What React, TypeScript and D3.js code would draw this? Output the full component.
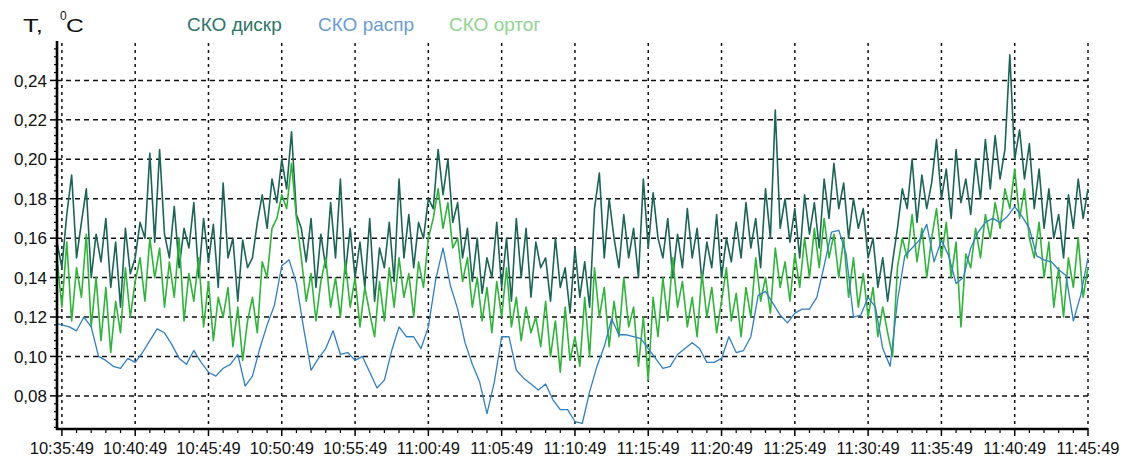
import React from "react";
import * as d3 from "d3";

// Series sampling
const START_SPIKY = "10:35:29"; // first sample of the "дискр" and "ортог" series
const STEP_SPIKY = 20; // seconds
const START_SMOOTH = "10:35:19"; // first sample of the "распр" series
const STEP_SMOOTH = 30; // seconds

const DOMAIN_START = "10:35:29";
const DOMAIN_END = "11:45:49";

const X_TICKS = [
  "10:35:49", "10:40:49", "10:45:49", "10:50:49", "10:55:49", "11:00:49", "11:05:49", "11:10:49",
  "11:15:49", "11:20:49", "11:25:49", "11:30:49", "11:35:49", "11:40:49", "11:45:49",
];
const Y_TICKS = [0.08, 0.1, 0.12, 0.14, 0.16, 0.18, 0.2, 0.22, 0.24];

const LEGEND = ["СКО дискр", "СКО распр", "СКО ортог"];

// СКО дискр
const skoDiskr = [
  0.158, 0.145, 0.172, 0.192, 0.150, 0.168, 0.185, 0.140, 0.162, 0.148,
  0.170, 0.135, 0.158, 0.125, 0.165, 0.142, 0.150, 0.168, 0.160, 0.203,
  0.158, 0.205, 0.162, 0.150, 0.176, 0.145, 0.165, 0.155, 0.178, 0.140,
  0.170, 0.148, 0.167, 0.135, 0.188, 0.150, 0.160, 0.128, 0.159, 0.145,
  0.150, 0.168, 0.182, 0.165, 0.190, 0.178, 0.200, 0.185, 0.214, 0.172,
  0.165, 0.148, 0.170, 0.135, 0.162, 0.145, 0.178, 0.150, 0.190, 0.142,
  0.165, 0.140, 0.158, 0.135, 0.170, 0.128, 0.155, 0.145, 0.168, 0.138,
  0.190, 0.150, 0.172, 0.145, 0.168, 0.160, 0.180, 0.175, 0.205, 0.182,
  0.200, 0.168, 0.178, 0.150, 0.165, 0.138, 0.160, 0.132, 0.150, 0.140,
  0.168, 0.135, 0.160, 0.128, 0.170, 0.140, 0.165, 0.130, 0.158, 0.145,
  0.150, 0.128, 0.160, 0.135, 0.145, 0.122, 0.155, 0.130, 0.148, 0.125,
  0.175, 0.193, 0.150, 0.180, 0.160, 0.145, 0.172, 0.150, 0.165, 0.140,
  0.190, 0.155, 0.183, 0.160, 0.150, 0.170, 0.140, 0.162, 0.145, 0.175,
  0.150, 0.165, 0.138, 0.158, 0.145, 0.172, 0.140, 0.160, 0.148, 0.168,
  0.150, 0.178, 0.155, 0.170, 0.145, 0.185, 0.160, 0.225, 0.165, 0.180,
  0.158, 0.175, 0.150, 0.182, 0.162, 0.178, 0.155, 0.190, 0.170, 0.198,
  0.175, 0.188, 0.160, 0.180, 0.165, 0.175, 0.150, 0.160, 0.135, 0.150,
  0.128, 0.148, 0.165, 0.185, 0.175, 0.200, 0.168, 0.192, 0.175, 0.188,
  0.210, 0.180, 0.195, 0.170, 0.205, 0.178, 0.190, 0.172, 0.200, 0.180,
  0.210, 0.185, 0.212, 0.190, 0.205, 0.253, 0.200, 0.215, 0.190, 0.208,
  0.175, 0.195, 0.165, 0.185, 0.160, 0.172, 0.150, 0.182, 0.165, 0.190,
  0.170, 0.185,
];

// СКО ортог
const skoOrtog = [
  0.150, 0.125, 0.158, 0.118, 0.145, 0.130, 0.162, 0.115, 0.140, 0.108,
  0.135, 0.102, 0.128, 0.112, 0.145, 0.120, 0.138, 0.150, 0.128, 0.160,
  0.140, 0.155, 0.125, 0.148, 0.130, 0.160, 0.118, 0.142, 0.128, 0.150,
  0.115, 0.138, 0.108, 0.130, 0.120, 0.135, 0.105, 0.125, 0.098, 0.118,
  0.130, 0.112, 0.148, 0.140, 0.165, 0.170, 0.182, 0.175, 0.198, 0.170,
  0.150, 0.128, 0.142, 0.118, 0.138, 0.150, 0.125, 0.140, 0.120, 0.148,
  0.125, 0.140, 0.115, 0.135, 0.122, 0.110, 0.138, 0.118, 0.145, 0.125,
  0.150, 0.130, 0.142, 0.120, 0.148, 0.135, 0.160, 0.170, 0.185, 0.165,
  0.178, 0.155, 0.160, 0.138, 0.150, 0.125, 0.140, 0.118, 0.135, 0.112,
  0.138, 0.120, 0.145, 0.115, 0.130, 0.108, 0.125, 0.112, 0.120, 0.105,
  0.128, 0.100, 0.118, 0.092, 0.125, 0.098, 0.110, 0.095, 0.130, 0.100,
  0.145, 0.120, 0.135, 0.105, 0.128, 0.110, 0.140, 0.115, 0.125, 0.095,
  0.120, 0.088, 0.130, 0.110, 0.140, 0.118, 0.150, 0.125, 0.138, 0.115,
  0.130, 0.110, 0.142, 0.120, 0.135, 0.112, 0.128, 0.145, 0.118, 0.132,
  0.110, 0.135, 0.120, 0.150, 0.128, 0.140, 0.122, 0.155, 0.135, 0.148,
  0.128, 0.152, 0.135, 0.160, 0.140, 0.165, 0.145, 0.170, 0.150, 0.162,
  0.140, 0.160, 0.130, 0.150, 0.125, 0.142, 0.120, 0.135, 0.110, 0.125,
  0.112, 0.100, 0.145, 0.160, 0.150, 0.172, 0.148, 0.165, 0.140, 0.160,
  0.175, 0.150, 0.168, 0.140, 0.158, 0.115, 0.152, 0.145, 0.165, 0.150,
  0.172, 0.160, 0.178, 0.165, 0.185, 0.175, 0.195, 0.170, 0.185, 0.160,
  0.150, 0.168, 0.140, 0.158, 0.125, 0.145, 0.120, 0.150, 0.135, 0.160,
  0.130, 0.145,
];

// СКО распр
const skoRaspr = [
  0.117, 0.116, 0.115, 0.113, 0.120, 0.115, 0.100, 0.098, 0.095, 0.094,
  0.099, 0.097, 0.102, 0.108, 0.114, 0.112, 0.106, 0.099, 0.096, 0.103,
  0.097, 0.092, 0.090, 0.094, 0.096, 0.101, 0.085, 0.090, 0.104, 0.116,
  0.126, 0.146, 0.149, 0.137, 0.114, 0.093, 0.099, 0.104, 0.113, 0.101,
  0.102, 0.098, 0.100, 0.092, 0.084, 0.088, 0.103, 0.115, 0.110, 0.110,
  0.104, 0.115, 0.139, 0.155, 0.136, 0.124, 0.107, 0.096, 0.087, 0.071,
  0.087, 0.110, 0.110, 0.093, 0.089, 0.086, 0.083, 0.086, 0.078, 0.073,
  0.073, 0.067, 0.066, 0.082, 0.095, 0.105, 0.119, 0.111, 0.111, 0.110,
  0.109, 0.104, 0.099, 0.094, 0.095, 0.101, 0.104, 0.107, 0.104, 0.097,
  0.097, 0.099, 0.110, 0.102, 0.103, 0.110, 0.131, 0.133, 0.127, 0.121,
  0.117, 0.122, 0.124, 0.124, 0.130, 0.146, 0.163, 0.164, 0.152, 0.120,
  0.121, 0.130, 0.125, 0.104, 0.095, 0.128, 0.151, 0.155, 0.159, 0.167,
  0.148, 0.159, 0.151, 0.137, 0.140, 0.155, 0.163, 0.168, 0.170, 0.168,
  0.171, 0.176, 0.171, 0.165, 0.151, 0.149, 0.148, 0.144, 0.141, 0.118,
  0.131, 0.150,
];

const parseTime = d3.timeParse("%H:%M:%S");

const COLORS = {
  diskr: "#1b6556",
  raspr: "#2f7fc4",
  ortog: "#2fb43a",
};
const LEGEND_COLORS = ["#2a7565", "#6a9ccf", "#8fd48f"];

const WIDTH = 1124;
const HEIGHT = 463;
const LEFT = 57;
const RIGHT = 1088;
const TOP = 43;
const BOTTOM = 429;

const FONT = "'Liberation Sans', Arial, sans-serif";

function toSeries(values: number[], start: string, step: number) {
  const t0 = parseTime(start)!;
  return values.map((v, i) => ({ t: d3.timeSecond.offset(t0, i * step), v }));
}

export default function App() {
  const x = d3
    .scaleTime()
    .domain([parseTime(DOMAIN_START)!, parseTime(DOMAIN_END)!])
    .range([LEFT, RIGHT]);
  const y = d3.scaleLinear().domain([0.0632, 0.26]).range([BOTTOM, 41]);

  const line = d3
    .line<{ t: Date; v: number }>()
    .x((d) => x(d.t))
    .y((d) => y(d.v));

  const diskr = toSeries(skoDiskr, START_SPIKY, STEP_SPIKY);
  const ortog = toSeries(skoOrtog, START_SPIKY, STEP_SPIKY);
  const raspr = toSeries(skoRaspr, START_SMOOTH, STEP_SMOOTH);

  const majorTimes = X_TICKS.map((s) => parseTime(s)!);
  const minorTimes: Date[] = [];
  for (let i = 0; i < majorTimes.length - 1; i++) {
    for (let k = 1; k < 5; k++) minorTimes.push(d3.timeMinute.offset(majorTimes[i], k));
  }
  const yMinor = d3.range(0.064, 0.258, 0.004).filter(
    (v) => !Y_TICKS.some((t) => Math.abs(t - v) < 1e-6)
  );

  const fmt = (v: number) => v.toFixed(2).replace(".", ",");

  return (
    <svg
      width={WIDTH}
      height={HEIGHT}
      style={{ position: "absolute", left: 0, top: 0, background: "#fff" }}
      fontFamily={FONT}
    >
      <defs>
        <clipPath id="plot-clip">
          <rect x={LEFT} y={TOP - 10} width={RIGHT - LEFT + 1} height={BOTTOM - TOP + 9} />
        </clipPath>
      </defs>

      {/* grid */}
      <g stroke="#111" strokeWidth={1.5}>
        {Y_TICKS.map((v) => (
          <line key={v} x1={LEFT} x2={RIGHT} y1={y(v)} y2={y(v)} strokeDasharray="5 4" />
        ))}
        {majorTimes.map((t, i) => (
          <line key={i} x1={x(t)} x2={x(t)} y1={TOP} y2={BOTTOM} strokeDasharray="3 4" />
        ))}
      </g>

      {/* series */}
      <g clipPath="url(#plot-clip)" fill="none" strokeLinejoin="round">
        <path d={line(diskr) ?? ""} stroke={COLORS.diskr} strokeWidth={1.6} />
        <path d={line(ortog) ?? ""} stroke={COLORS.ortog} strokeWidth={1.6} />
        <path d={line(raspr) ?? ""} stroke={COLORS.raspr} strokeWidth={1.3} />
      </g>

      {/* axes */}
      <g stroke="#000">
        <line x1={LEFT} x2={LEFT} y1={TOP - 2} y2={BOTTOM + 1} strokeWidth={2.6} />
        <line x1={LEFT - 1} x2={RIGHT} y1={BOTTOM} y2={BOTTOM} strokeWidth={2.6} />
        {Y_TICKS.map((v) => (
          <line key={v} x1={LEFT - 7} x2={LEFT} y1={y(v)} y2={y(v)} strokeWidth={1.5} />
        ))}
        {yMinor.map((v, i) => (
          <line key={i} x1={LEFT - 3} x2={LEFT} y1={y(v)} y2={y(v)} strokeWidth={1.2} />
        ))}
        {majorTimes.map((t, i) => (
          <line key={i} x1={x(t)} x2={x(t)} y1={BOTTOM} y2={BOTTOM + 7} strokeWidth={1.5} />
        ))}
        {minorTimes.map((t, i) => (
          <line key={i} x1={x(t)} x2={x(t)} y1={BOTTOM} y2={BOTTOM + 4} strokeWidth={1.2} />
        ))}
      </g>

      {/* tick labels */}
      <g fill="#111">
        {Y_TICKS.map((v) => (
          <text key={v} x={LEFT - 10} y={y(v)} dy="0.36em" textAnchor="end" fontSize={17}>
            {fmt(v)}
          </text>
        ))}
        {X_TICKS.map((s, i) => (
          <text key={s} x={x(majorTimes[i])} y={BOTTOM + 25} textAnchor="middle" fontSize={16.5}>
            {s}
          </text>
        ))}
      </g>

      {/* axis unit */}
      <g fill="#111">
        <text transform="translate(23,32) scale(1.35,1)" fontSize={19}>T,</text>
        <text x={60} y={20} fontSize={12}>0</text>
        <text transform="translate(66,32) scale(1.3,1)" fontSize={19}>C</text>
      </g>

      {/* legend */}
      <g fontSize={19}>
        <text x={187} y={31} fill={LEGEND_COLORS[0]}>{LEGEND[0]}</text>
        <text x={318} y={31} fill={LEGEND_COLORS[1]}>{LEGEND[1]}</text>
        <text x={449} y={31} fill={LEGEND_COLORS[2]}>{LEGEND[2]}</text>
      </g>
    </svg>
  );
}
